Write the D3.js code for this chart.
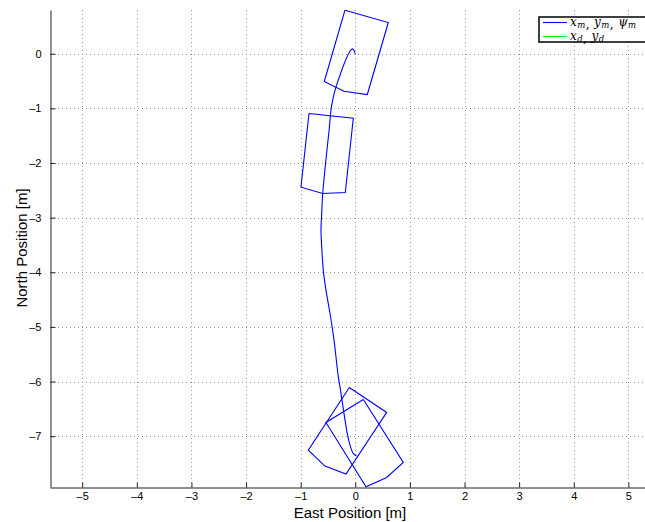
<!DOCTYPE html>
<html>
<head>
<meta charset="utf-8">
<script src="https://cdn.jsdelivr.net/npm/d3@7/dist/d3.min.js"></script>
<style>
  html, body { margin: 0; padding: 0; background: #fff; overflow: hidden; }
  svg { display: block; }
  .tick text { font-family: "Liberation Sans", Arial, sans-serif; font-size: 11px; fill: #000; }
</style>
</head>
<body>
<div id="chart"></div>
<script>
// Measured vessel track (East, North) in metres
const trackEast  = [0.00, -0.055, -0.353, -0.432, -0.48, -0.597, -0.615, -0.628, -0.615, -0.586, -0.537, -0.463, -0.390, -0.311, -0.280, -0.207, -0.147, -0.097, -0.037, 0.026];
const trackNorth = [0.00, 0.088, -0.607, -0.942, -1.40, -2.558, -2.924, -3.230, -3.535, -3.962, -4.328, -4.754, -5.243, -5.914, -6.097, -6.584, -6.950, -7.164, -7.316, -7.365];

// Hull outlines at selected poses (East, North) of each vertex
const hullEast = [
  [-0.189, 0.604, 0.220, -0.207, -0.568],
  [-0.848, -0.037, -0.183, -0.597, -0.995],
  [-0.110, 0.575, -0.170, -0.555, -0.861],
  [0.147, 0.879, 0.575, 0.196, -0.537]
];
const hullNorth = [
  [0.796, 0.571, -0.747, -0.686, -0.509],
  [-1.094, -1.180, -2.540, -2.558, -2.443],
  [-6.108, -6.565, -7.694, -7.548, -7.255],
  [-6.328, -7.480, -7.755, -7.927, -6.748]
];

const xTicks = [-5, -4, -3, -2, -1, 0, 1, 2, 3, 4, 5];
const yTicks = [0, -1, -2, -3, -4, -5, -6, -7];
const xDomain = [-5.59, 5.59];
const yDomain = [-7.93, 0.80];

const W = 645, H = 522;
const padL = 50, padT = 10, padB = 487, padR = 660.6;

const svg = d3.select("#chart").append("svg").attr("width", W).attr("height", H);

const x = d3.scaleLinear().domain(xDomain).range([padL, padR]);
const y = d3.scaleLinear().domain(yDomain).range([padB, padT]);

const fmt = d => d < 0 ? "\u2013" + Math.abs(d) : String(d);

// dotted grid
const grid = svg.append("g").attr("stroke", "#9a9a9a").attr("stroke-width", 1)
  .attr("stroke-dasharray", "1,3");
grid.selectAll("line.v").data(xTicks).join("line").attr("class", "v")
  .attr("x1", d => Math.round(x(d)) + 0.5).attr("x2", d => Math.round(x(d)) + 0.5)
  .attr("y1", padT).attr("y2", padB);
grid.selectAll("line.h").data(yTicks).join("line").attr("class", "h")
  .attr("y1", d => Math.round(y(d)) + 0.5).attr("y2", d => Math.round(y(d)) + 0.5)
  .attr("x1", padL).attr("x2", padR);

// axes with inward ticks
const xAxis = d3.axisBottom(x).tickValues(xTicks).tickFormat(fmt).tickSizeInner(-5).tickSizeOuter(0).tickPadding(5);
const yAxis = d3.axisLeft(y).tickValues(yTicks).tickFormat(fmt).tickSizeInner(-5).tickSizeOuter(0).tickPadding(9);

const gx = svg.append("g").attr("transform", `translate(0,${padB + 0.5})`).call(xAxis);
const gy = svg.append("g").attr("transform", `translate(${padL + 0.5},0)`).call(yAxis);
[gx, gy].forEach(g => {
  g.select(".domain").attr("stroke", "#222").attr("stroke-width", 1);
  g.selectAll(".tick line").attr("stroke", "#222");
});

// hull outlines
const hullLine = d3.line().x(p => x(p[0])).y(p => y(p[1]));
svg.append("g").selectAll("path").data(hullEast.map((e, i) => {
  const pts = e.map((v, j) => [v, hullNorth[i][j]]);
  pts.push(pts[0]);
  return pts;
})).join("path")
  .attr("d", hullLine)
  .attr("fill", "none").attr("stroke", "#0000ff").attr("stroke-width", 1.1);

// track
svg.append("path")
  .datum(trackEast.map((v, i) => [v, trackNorth[i]]))
  .attr("d", d3.line().x(p => x(p[0])).y(p => y(p[1])).curve(d3.curveCatmullRom))
  .attr("fill", "none").attr("stroke", "#0000ff").attr("stroke-width", 1.1);

// axis titles
svg.append("text").attr("x", 350).attr("y", 518).attr("text-anchor", "middle")
  .attr("font-family", "Liberation Sans, Arial, sans-serif").attr("font-size", 15)
  .text("East Position [m]");
svg.append("text").attr("transform", "translate(27,248) rotate(-90)").attr("text-anchor", "middle")
  .attr("font-family", "Liberation Sans, Arial, sans-serif").attr("font-size", 15)
  .text("North Position [m]");

// legend
const lg = svg.append("g").attr("transform", "translate(539,17)");
lg.append("rect").attr("x", 0).attr("y", 0).attr("width", 130).attr("height", 25)
  .attr("fill", "#fff").attr("stroke", "#000").attr("stroke-width", 1.5);
const entries = [
  { color: "#0000ff", parts: [["x", "m"], ["y", "m"], ["\u03c8", "m"]] },
  { color: "#00ff00", parts: [["x", "d"], ["y", "d"]] }
];
entries.forEach((e, i) => {
  const yy = 5.5 + i * 14;
  lg.append("line").attr("x1", 4).attr("x2", 28).attr("y1", yy).attr("y2", yy)
    .attr("stroke", e.color).attr("stroke-width", 1.1);
  const t = lg.append("text").attr("x", 31).attr("y", yy + 3)
    .attr("font-family", "DejaVu Serif, Liberation Serif, serif").attr("font-style", "italic")
    .attr("font-size", 12).attr("letter-spacing", 0.4);
  e.parts.forEach((p, k) => {
    t.append("tspan").text(p[0]).attr("dy", k === 0 ? 0 : -2.5);
    t.append("tspan").text(p[1]).attr("font-size", 8.5).attr("dy", 2.5);
    if (k < e.parts.length - 1) t.append("tspan").text(", ").attr("font-style", "normal");
  });
});
</script>
</body>
</html>
